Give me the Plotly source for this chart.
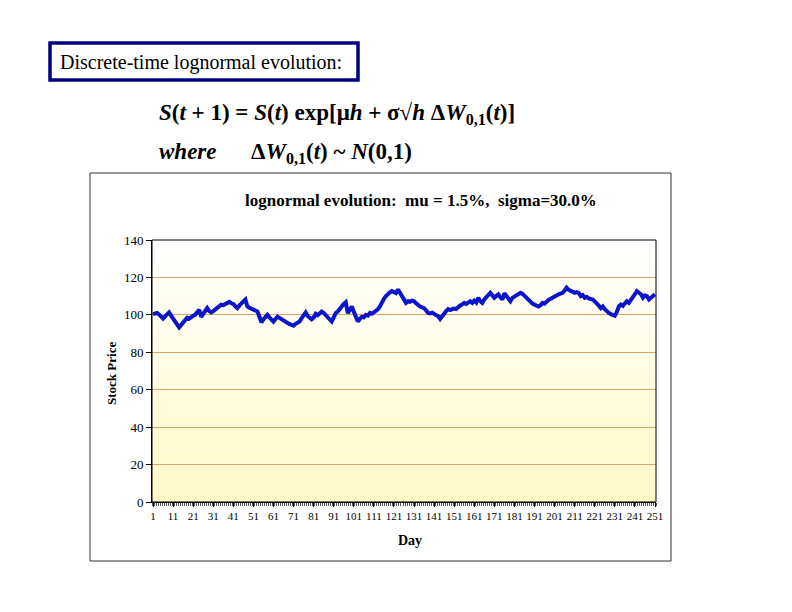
import plotly.graph_objects as go

# ---------------- data ----------------
days = list(range(1, 252))
prices = [
    100.4, 100.8, 101.0, 100.2, 99.0, 98.0, 99.2, 100.6, 101.3, 99.6,
    98.0, 96.0, 94.5, 93.3, 94.6, 96.0, 97.4, 98.5, 98.0, 99.0,
    99.5, 100.0, 101.2, 102.7, 99.0, 100.5, 101.8, 103.6, 102.0, 101.3,
    102.0, 102.7, 104.0, 104.6, 105.4, 105.2, 105.8, 106.5, 106.9, 106.2,
    105.8, 104.6, 103.6, 105.0, 106.4, 107.2, 108.2, 104.5, 103.8, 103.2,
    102.7, 102.2, 101.8, 99.0, 96.0, 97.6, 99.0, 100.0, 98.6, 97.2,
    96.4, 97.8, 99.0, 98.4, 97.6, 97.0, 96.4, 95.8, 95.0, 94.6,
    94.2, 95.2, 96.0, 96.4, 98.2, 100.0, 101.3, 99.4, 98.6, 97.6,
    98.6, 100.5, 99.8, 101.0, 101.8, 101.0, 100.0, 98.6, 97.6, 96.4,
    98.6, 101.0, 101.8, 103.4, 104.9, 105.8, 106.7, 100.9, 102.6, 104.5,
    101.6, 99.0, 96.4, 97.8, 99.0, 98.6, 100.0, 99.6, 101.0, 100.6,
    101.2, 101.8, 103.0, 104.5, 106.8, 108.6, 110.0, 111.4, 112.0, 112.7,
    112.2, 111.6, 113.6, 112.0, 110.0, 108.0, 106.4, 107.3, 107.0, 107.6,
    107.3, 106.2, 104.9, 104.4, 104.0, 103.6, 102.4, 101.0, 100.8, 101.2,
    100.5, 100.0, 99.2, 97.8, 99.5, 100.6, 102.0, 103.1, 102.6, 103.1,
    103.4, 103.1, 104.2, 105.0, 105.6, 106.4, 105.8, 106.4, 107.3, 106.4,
    107.6, 106.6, 109.1, 107.3, 106.4, 108.2, 109.6, 111.0, 111.8, 110.4,
    109.1, 110.2, 111.0, 109.4, 108.2, 111.5, 110.0, 108.6, 107.3, 109.1,
    109.8, 110.6, 111.4, 111.8, 111.2, 110.0, 108.8, 107.6, 106.4, 106.0,
    105.5, 105.0, 104.5, 105.2, 106.4, 106.0, 107.3, 108.0, 108.6, 109.4,
    110.0, 110.4, 111.0, 111.4, 111.8, 113.0, 114.5, 113.4, 112.7, 112.0,
    111.8, 112.2, 111.8, 110.0, 110.6, 109.1, 109.6, 108.8, 108.6, 108.2,
    107.2, 106.4, 105.0, 103.6, 104.5, 103.0, 101.8, 101.0, 100.4, 100.0,
    99.5, 101.6, 104.5, 105.5, 104.8, 106.2, 107.3, 106.4, 108.0, 110.0,
    111.4, 112.7, 111.8, 111.0, 109.1, 110.4, 110.0, 108.2, 109.1, 110.2,
    111.0,
]
xtick_vals = [1, 11, 21, 31, 41, 51, 61, 71, 81, 91, 101, 111, 121, 131, 141,
              151, 161, 171, 181, 191, 201, 211, 221, 231, 241, 251]
xtick_text = ["1", "11", "21", "31", "41", "51", "61", "71", "81", "91", "101",
              "111", "121", "131", "141", "151", "161", "171", "181", "191",
              "201", "211", "221", "231", "241", "251"]
ytick_vals = [0, 20, 40, 60, 80, 100, 120, 140]

chart_title = "lognormal evolution:  mu = 1.5%,  sigma=30.0%"
slide_title = "Discrete-time lognormal evolution:"

# ---------------- geometry helpers ----------------
OFF = 8                      # browser body margin
W, H = 792 - 2 * OFF, 612 - 2 * OFF
L, R, T, B = 152, 656, 240, 502  # plot area in page pixels


def px(x):
    return (x - L) / (R - L)


def py(y):
    return (B - y) / (B - T)


SERIF = "Liberation Serif, Times New Roman, serif"

fig = go.Figure()
fig.add_trace(go.Scatter(
    x=days, y=prices, mode="lines",
    line=dict(color="#0a14c8", width=4),
    hoverinfo="skip", showlegend=False,
))

shapes = []
# gradient background of plot area (white -> pale yellow)
n = 40
c_top = (255, 255, 255)
c_bot = (255, 248, 196)
for i in range(n):
    f = (i + 0.5) / n
    col = tuple(round(c_top[k] + (c_bot[k] - c_top[k]) * f) for k in range(3))
    shapes.append(dict(
        type="rect", xref="x domain", yref="y domain",
        x0=0, x1=1, y0=1 - (i + 1) / n, y1=1 - i / n,
        fillcolor="rgb(%d,%d,%d)" % col, line=dict(width=0), layer="below",
    ))
# outer chart frame
shapes.append(dict(
    type="rect", xref="paper", yref="paper",
    x0=px(90), x1=px(671), y0=py(561), y1=py(173),
    line=dict(color="#333333", width=1), fillcolor="rgba(0,0,0,0)", layer="below",
))
# title box
shapes.append(dict(
    type="rect", xref="paper", yref="paper",
    x0=px(50), x1=px(358), y0=py(80), y1=py(43),
    line=dict(color="#000080", width=3.5), fillcolor="white",
))
# plot-area frame
shapes.append(dict(
    type="rect", xref="x domain", yref="y domain",
    x0=0, x1=1, y0=0, y1=1,
    line=dict(color="#000000", width=1), fillcolor="rgba(0,0,0,0)", layer="above",
))

annotations = [
    dict(text=slide_title, xref="paper", yref="paper",
         x=px(201), y=py(62), xanchor="center", yanchor="middle",
         showarrow=False, font=dict(family=SERIF, size=20, color="black")),
    dict(text="<b><i>S</i>(<i>t</i> + 1) = <i>S</i>(<i>t</i>) exp[μ<i>h</i> + σ√<i>h</i> Δ<i>W</i>"
              "<sub>0,1</sub>(<i>t</i>)]</b>",
         xref="paper", yref="paper", x=px(157), y=py(114),
         xanchor="left", yanchor="middle", showarrow=False,
         font=dict(family=SERIF, size=23, color="black")),
    dict(text="<b><i>where</i>      Δ<i>W</i><sub>0,1</sub>(<i>t</i>) ~ <i>N</i>(0,1)</b>",
         xref="paper", yref="paper", x=px(157), y=py(153),
         xanchor="left", yanchor="middle", showarrow=False,
         font=dict(family=SERIF, size=23, color="black")),
    dict(text="<b>" + chart_title + "</b>", xref="paper", yref="paper",
         x=px(421), y=py(201), xanchor="center", yanchor="middle",
         showarrow=False, font=dict(family=SERIF, size=17, color="black")),
    dict(text="<b>Stock Price</b>", xref="paper", yref="paper",
         x=px(111), y=py(374), xanchor="center", yanchor="middle",
         textangle=-90, showarrow=False,
         font=dict(family=SERIF, size=13, color="black")),
    dict(text="<b>Day</b>", xref="paper", yref="paper",
         x=px(410), y=py(540), xanchor="center", yanchor="middle",
         showarrow=False, font=dict(family=SERIF, size=14, color="black")),
]

fig.update_layout(
    width=W, height=H,
    margin=dict(l=L - OFF, r=(OFF + W) - R, t=T - OFF, b=(OFF + H) - B, pad=0),
    paper_bgcolor="white", plot_bgcolor="rgba(0,0,0,0)",
    shapes=shapes, annotations=annotations,
    showlegend=False,
    xaxis=dict(
        range=[0.5, 251.5], tickmode="array", tickvals=xtick_vals,
        ticktext=xtick_text, ticks="outside", ticklen=4, tickcolor="black",
        tickfont=dict(family=SERIF, size=11, color="black"),
        showgrid=False, zeroline=False, showline=True, linecolor="black",
        minor=dict(tick0=0.5, dtick=1, ticks="outside", ticklen=3,
                   tickcolor="#555555", showgrid=False),
    ),
    yaxis=dict(
        range=[0, 140], tickmode="array", tickvals=ytick_vals,
        ticks="outside", ticklen=5, tickcolor="black",
        tickfont=dict(family=SERIF, size=13, color="black"),
        showgrid=True, gridcolor="#d9a56a", gridwidth=1,
        zeroline=False, showline=True, linecolor="black",
    ),
)

fig.write_html("out.html")
